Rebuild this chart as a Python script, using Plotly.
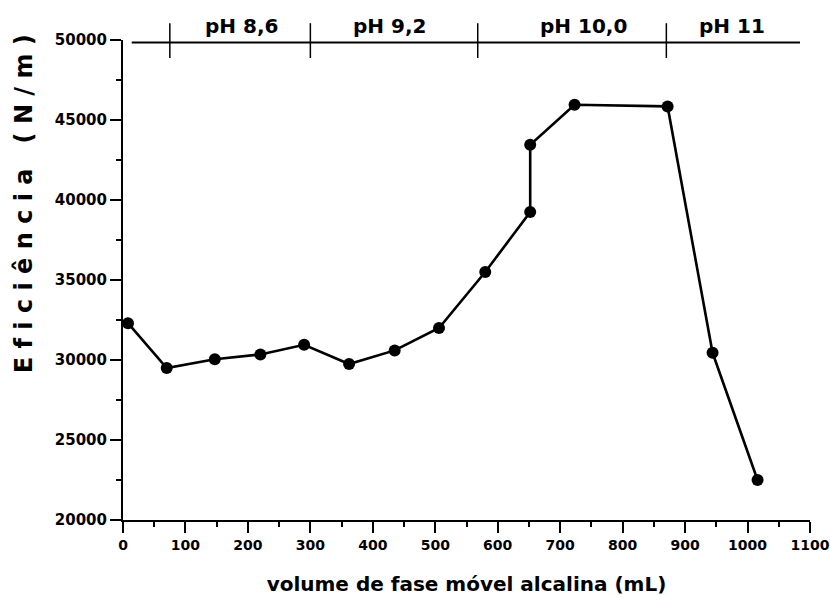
import plotly.graph_objects as go

volume = [8, 70, 147, 220, 290, 362, 435, 506, 580, 652, 652, 723, 872, 944, 1016]
eficiencia = [32300, 29500, 30050, 30350, 30950, 29750, 30600, 32000, 35500, 39250, 43450, 45950, 45850, 30450, 22500]

ph_labels = ["pH 8,6", "pH 9,2", "pH 10,0", "pH 11"]
ph_label_x = [189, 426, 738, 975]
ph_bounds = [75, 300, 568, 870]
bar_start, bar_end = 14, 1084

x_ticks = list(range(0, 1101, 100))
y_ticks = list(range(20000, 50001, 5000))
y_ticktext = [str(v) for v in y_ticks]

FONT = "DejaVu Sans"

fig = go.Figure()
fig.add_trace(go.Scatter(
    x=volume, y=eficiencia, mode="lines+markers",
    line=dict(color="black", width=2.6),
    marker=dict(color="black", size=12),
    cliponaxis=False, showlegend=False,
))

shapes = [dict(type="line", xref="x", yref="paper", x0=bar_start, x1=bar_end,
               y0=0.995, y1=0.995, line=dict(color="black", width=2))]
for b in ph_bounds:
    shapes.append(dict(type="line", xref="x", yref="paper", x0=b, x1=b,
                       y0=0.9625, y1=1.035, line=dict(color="black", width=1.5)))

annotations = []
for lab, lx in zip(ph_labels, ph_label_x):
    annotations.append(dict(text=lab, x=lx, y=1.03, xref="x", yref="paper",
                            showarrow=False, yanchor="middle",
                            font=dict(family=FONT, size=20, color="black", weight="bold")))
annotations.append(dict(text="E f i c i ê n c i a   ( N / m )", x=-0.144, y=0.658,
                        xref="paper", yref="paper", showarrow=False, textangle=-90,
                        xanchor="center", yanchor="middle",
                        font=dict(family=FONT, size=24, color="black", weight="bold")))

fig.update_layout(
    width=830, height=597,
    margin=dict(l=123, r=20, t=40, b=77),
    paper_bgcolor="white", plot_bgcolor="white",
    shapes=shapes, annotations=annotations,
    xaxis=dict(range=[0, 1100], tickvals=x_ticks, showgrid=False, zeroline=False,
               automargin=False,
               showline=True, linecolor="black", linewidth=2,
               ticks="outside", ticklen=11, tickwidth=2, tickcolor="black",
               minor=dict(dtick=50, ticks="outside", ticklen=5, tickwidth=1.5, tickcolor="black"),
               tickfont=dict(family=FONT, size=14, color="black", weight="bold"),
               title=dict(text="volume de fase móvel alcalina (mL)", standoff=25,
                          font=dict(family=FONT, size=20, color="black", weight="bold"))),
    yaxis=dict(range=[20000, 50000], tickvals=y_ticks, ticktext=y_ticktext,
               showgrid=False, zeroline=False, automargin=False,
               showline=True, linecolor="black", linewidth=2,
               ticks="outside", ticklen=11, tickwidth=2, tickcolor="black",
               minor=dict(dtick=2500, ticks="outside", ticklen=5, tickwidth=1.5, tickcolor="black"),
               tickfont=dict(family=FONT, size=15, color="black", weight="bold")),
)
fig.write_html("out.html")
